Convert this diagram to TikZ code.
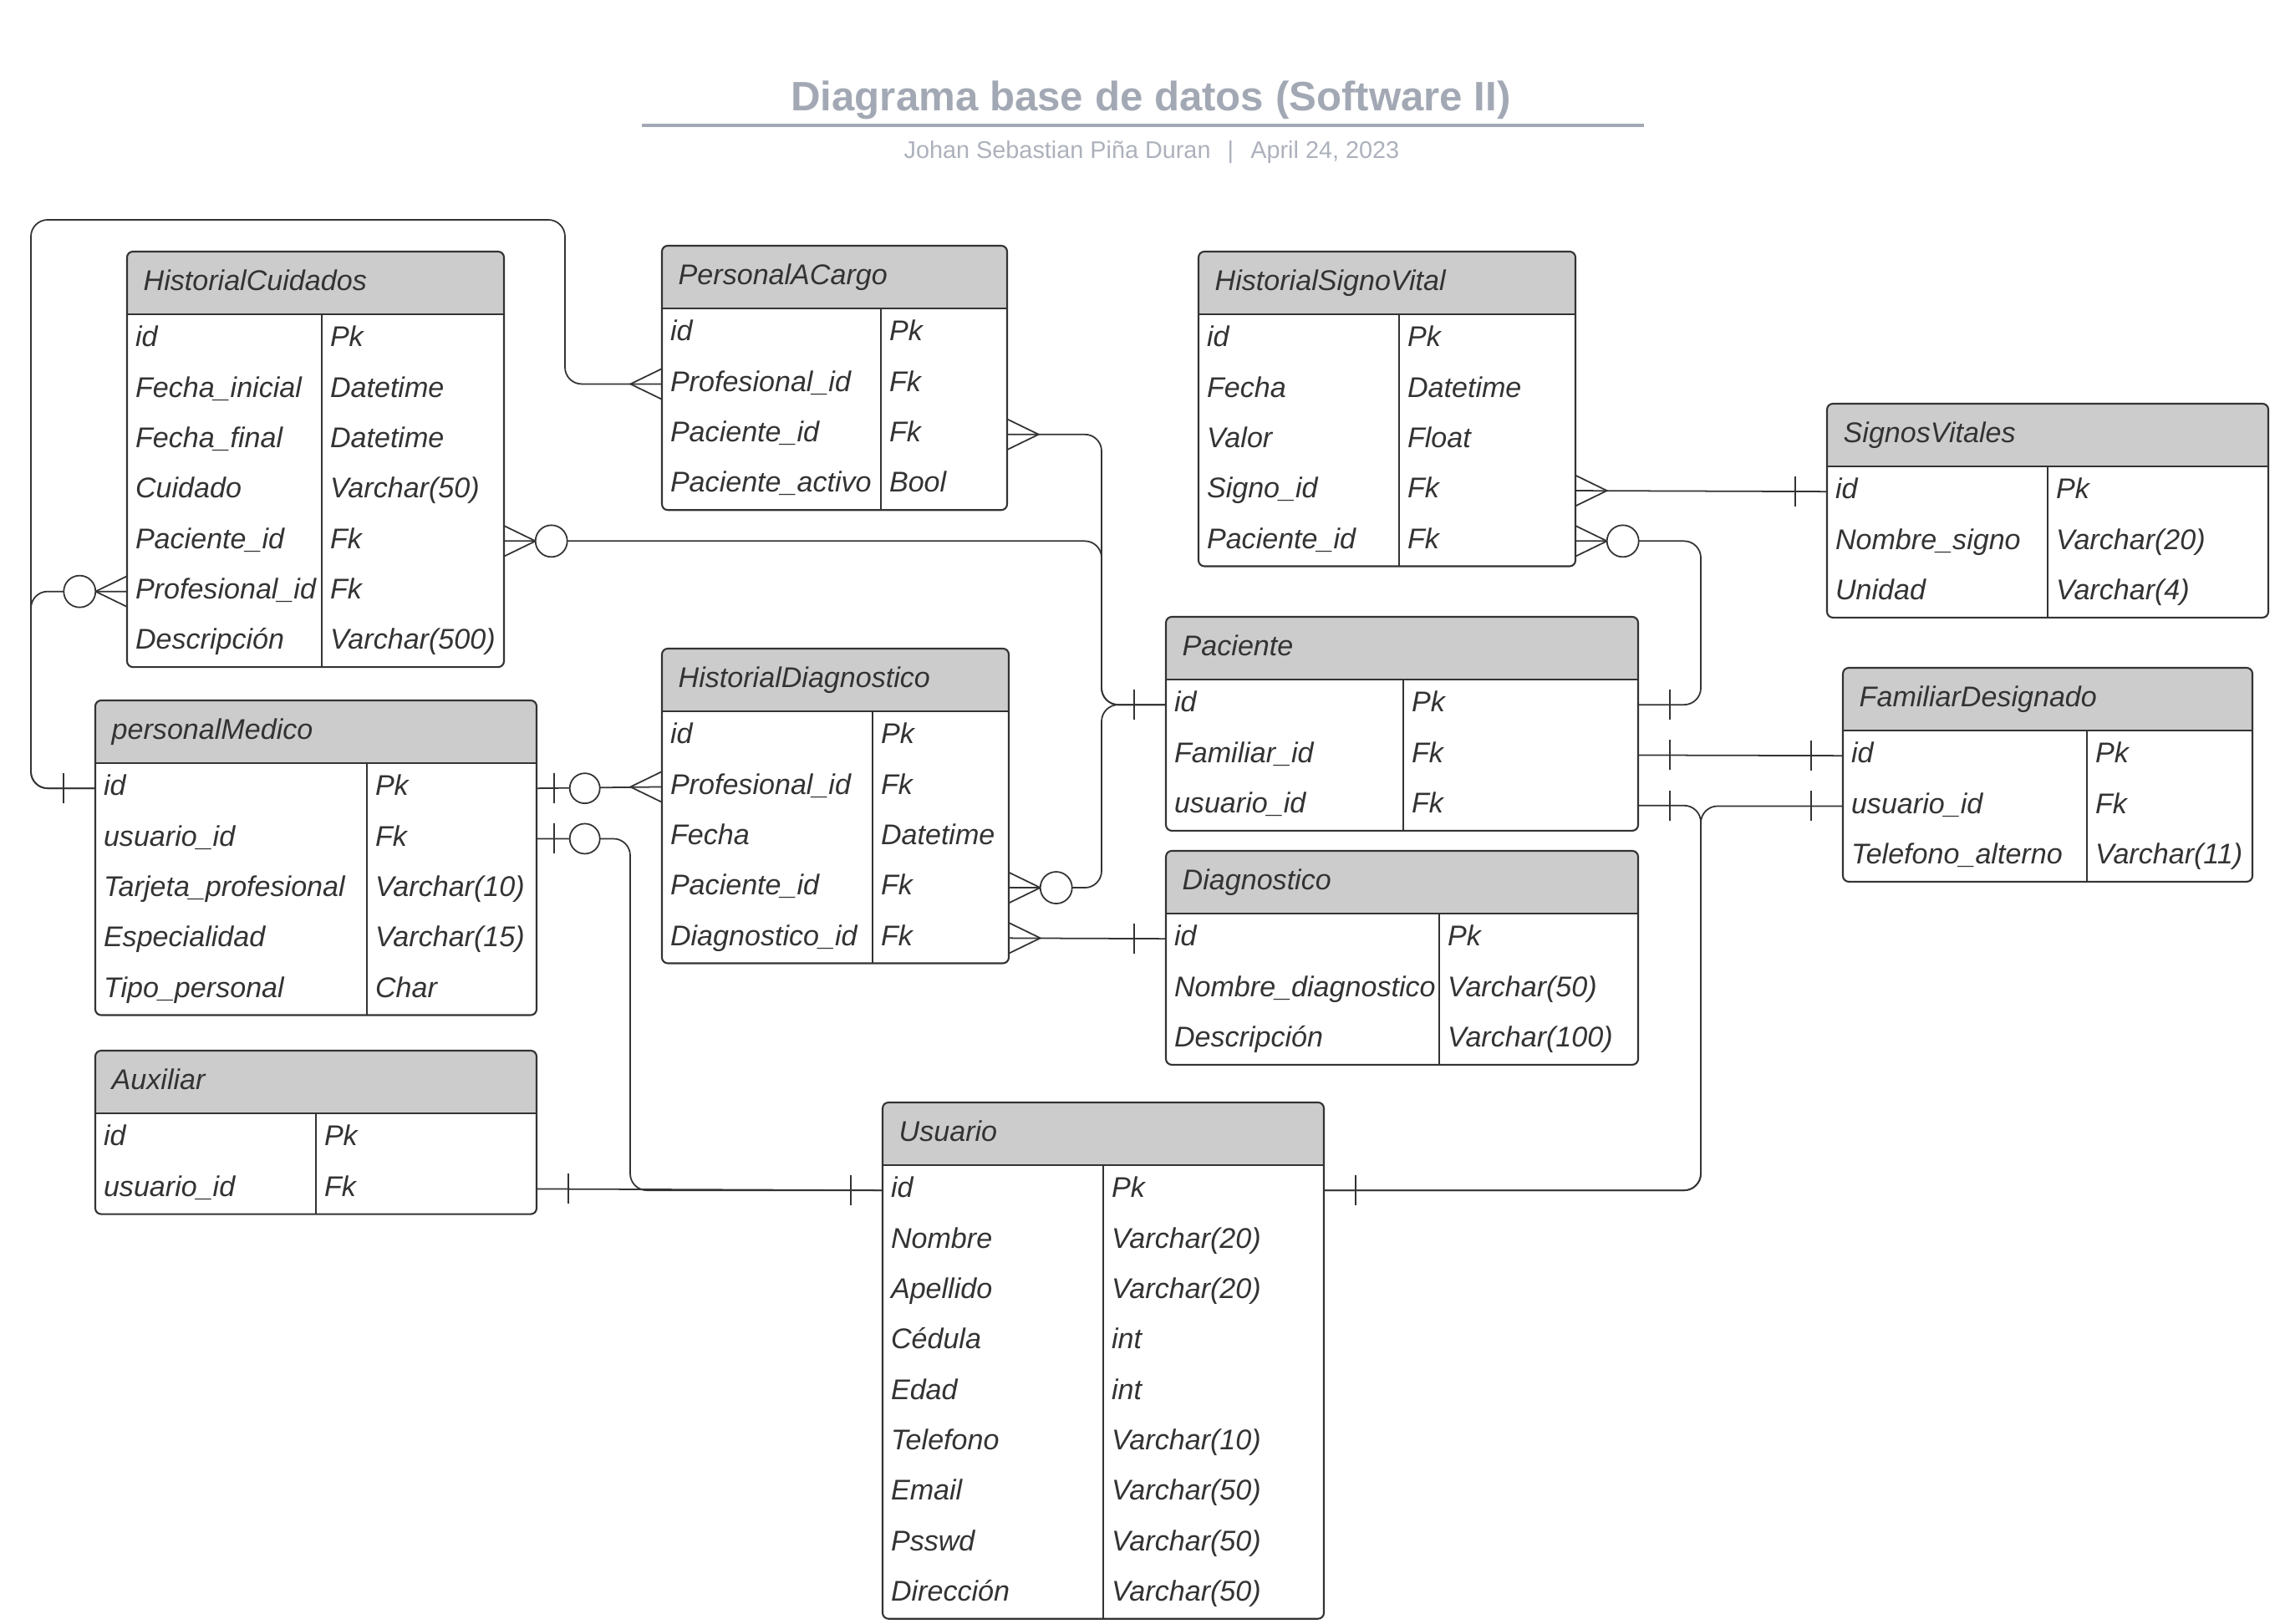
\documentclass[tikz,border=0pt]{standalone}
\usepackage{fontspec}
\setmainfont{Liberation Sans}
\usetikzlibrary{positioning}

\definecolor{titlegray}{RGB}{163,169,180}
\definecolor{subgray}{RGB}{172,177,187}
\definecolor{headgray}{RGB}{204,204,204}
\definecolor{inkgray}{RGB}{51,51,51}

\tikzset{
    many/.pic={\draw[tipline] (0,0.18) -- (0.37,0) -- (0,-0.18);},
    one/.pic={\draw[tipline] (0.37,0.18) -- (0.37,-0.18);},
    zeromany/.pic={\draw[tipline] (0,0.18) -- (0.37,0) -- (0,-0.18);
        \draw[tipline, fill=white] (0.56,0) circle (0.19);},
    zeroone/.pic={\draw[tipline] (0.2,0.18) -- (0.2,-0.18);
        \draw[tipline, fill=white] (0.57,0) circle (0.18);}
}

% name, left, top, width, second column, title, rows
\newcommand{\ertable}[7]{%
    \fill[headgray, rounded corners=2pt] (#2,#3) rectangle ({#2+#4},{#3-0.75});
    \fill[headgray] (#2,{#3-0.4}) rectangle ({#2+#4},{#3-0.75});
    \node[tabtext, anchor=west] (#1) at ({#2+0.19},{#3-0.375}) {#6};
    \foreach \fld/\typ [count=\i] in {#7} {
        \node[tabrow, minimum width=#4cm] (#1-\i) at ({#2+#4/2},{#3-0.75-(\i-0.5)*0.603}) {};
        \node[tabtext, anchor=west] at ([xshift=0.1cm]#1-\i.west) {\fld};
        \node[tabtext, anchor=west] at ([xshift={#5cm+0.1cm}]#1-\i.west) {\typ};
        \xdef\nrows{\i}
    }
    \draw[tabline] (#2,{#3-0.75}) -- ({#2+#4},{#3-0.75});
    \draw[tabline] ({#2+#5},{#3-0.75}) -- ({#2+#5},{#3-0.75-\nrows*0.603});
    \draw[tabline, rounded corners=2pt] (#2,#3) rectangle ({#2+#4},{#3-0.75-\nrows*0.603});
}

\begin{document}
\begin{tikzpicture}[
    tabtext/.style={inner sep=0, text=inkgray, text height=7pt, text depth=2pt, font=\fontsize{9.7}{11}\selectfont\itshape},
    tabrow/.style={inner sep=0, minimum height=0.603cm},
    tabline/.style={draw=inkgray, line width=0.6pt},
    conn/.style={draw=inkgray, line width=0.5pt, rounded corners=0.2cm},
    tipline/.style={draw=inkgray, line width=0.5pt}
]
    \useasboundingbox (0,0) rectangle (27.28,-19.43);

    \node[text=titlegray, font=\fontsize{14}{17}\selectfont\bfseries] (title) at (13.77,-1.20) {Diagrama base de datos (Software II)};
    \draw[titlegray, line width=1pt] (7.68,-1.50) -- (19.67,-1.50);
    \node[text=subgray, font=\fontsize{8.2}{10}\selectfont] (subtitle) at (13.78,-1.82) {Johan Sebastian Piña Duran\hspace{0.7em}|\hspace{0.7em}April 24, 2023};

    \ertable{hc}{1.52}{-3.01}{4.51}{2.33}{HistorialCuidados}{id/Pk, Fecha\_inicial/Datetime, Fecha\_final/Datetime, Cuidado/Varchar(50), Paciente\_id/Fk, Profesional\_id/Fk, Descripción/Varchar(500)}
    \ertable{pac}{7.92}{-2.94}{4.13}{2.62}{PersonalACargo}{id/Pk, Profesional\_id/Fk, Paciente\_id/Fk, Paciente\_activo/Bool}
    \ertable{hsv}{14.34}{-3.01}{4.51}{2.40}{HistorialSignoVital}{id/Pk, Fecha/Datetime, Valor/Float, Signo\_id/Fk, Paciente\_id/Fk}
    \ertable{sv}{21.86}{-4.83}{5.28}{2.64}{SignosVitales}{id/Pk, Nombre\_signo/Varchar(20), Unidad/Varchar(4)}
    \ertable{pa}{13.95}{-7.38}{5.65}{2.84}{Paciente}{id/Pk, Familiar\_id/Fk, usuario\_id/Fk}
    \ertable{fd}{22.05}{-7.99}{4.90}{2.92}{FamiliarDesignado}{id/Pk, usuario\_id/Fk, Telefono\_alterno/Varchar(11)}
    \ertable{hd}{7.92}{-7.76}{4.15}{2.52}{HistorialDiagnostico}{id/Pk, Profesional\_id/Fk, Fecha/Datetime, Paciente\_id/Fk, Diagnostico\_id/Fk}
    \ertable{pm}{1.14}{-8.38}{5.28}{3.25}{personalMedico}{id/Pk, usuario\_id/Fk, Tarjeta\_profesional/Varchar(10), Especialidad/Varchar(15), Tipo\_personal/Char}
    \ertable{dg}{13.95}{-10.18}{5.65}{3.27}{Diagnostico}{id/Pk, Nombre\_diagnostico/Varchar(50), Descripción/Varchar(100)}
    \ertable{ax}{1.14}{-12.57}{5.28}{2.64}{Auxiliar}{id/Pk, usuario\_id/Fk}
    \ertable{us}{10.56}{-13.19}{5.28}{2.64}{Usuario}{id/Pk, Nombre/Varchar(20), Apellido/Varchar(20), Cédula/int, Edad/int, Telefono/Varchar(10), Email/Varchar(50), Psswd/Varchar(50), Dirección/Varchar(50)}

    % bends of the shared lines
    \coordinate (leftbus) at (0.37,-2.63);
    \coordinate (pacbus) at (6.76,-2.63);
    \coordinate (pabus) at (13.18,0);
    \coordinate (usbus) at (20.35,0);
    \coordinate (pmbus) at (7.54,0);

    \draw[conn] (pm-1.west) -| (leftbus) -| (pacbus |- pac-2.west) -- (pac-2.west);
    \draw[conn] (hc-6.west) -| (leftbus |- pm-1.west) -- (pm-1.west);
    \draw[conn] (hc-5.east) -| (pabus |- pa-1.west) -- (pa-1.west);
    \draw[conn] (pac-3.east) -| (pabus |- pa-1.west) -- (pa-1.west);
    \draw[conn] (hd-4.east) -| (pabus |- pa-1.west) -- (pa-1.west);
    \draw[conn] (hd-5.east) -- (dg-1.west);
    \draw[conn] (hsv-4.east) -- (sv-1.west);
    \draw[conn] (hsv-5.east) -| (usbus |- pa-1.east) -- (pa-1.east);
    \draw[conn] (pa-2.east) -- (fd-1.west);
    \draw[conn] (pa-3.east) -| (usbus |- us-1.east) -- (us-1.east);
    \draw[conn] (fd-2.west) -| (usbus |- us-1.east) -- (us-1.east);
    \draw[conn] (pm-1.east) -- (hd-2.west);
    \draw[conn] (pm-2.east) -| (pmbus |- us-1.west) -- (us-1.west);
    \draw[conn] (ax-2.east) -- (us-1.west);

    \path (pm-1.west) pic[rotate=180] {one};
    \path (pac-2.west) pic[rotate=180] {many};
    \path (hc-6.west) pic[rotate=180] {zeromany};
    \path (hc-5.east) pic {zeromany};
    \path (pac-3.east) pic {many};
    \path (hd-4.east) pic {zeromany};
    \path (pa-1.west) pic[rotate=180] {one};
    \path (hd-5.east) pic {many};
    \path (dg-1.west) pic[rotate=180] {one};
    \path (hsv-4.east) pic {many};
    \path (sv-1.west) pic[rotate=180] {one};
    \path (hsv-5.east) pic {zeromany};
    \path (pa-1.east) pic {one};
    \path (pa-2.east) pic {one};
    \path (fd-1.west) pic[rotate=180] {one};
    \path (pa-3.east) pic {one};
    \path (fd-2.west) pic[rotate=180] {one};
    \path (us-1.east) pic {one};
    \path (pm-1.east) pic {zeroone};
    \path (hd-2.west) pic[rotate=180] {many};
    \path (pm-2.east) pic {zeroone};
    \path (us-1.west) pic[rotate=180] {one};
    \path (ax-2.east) pic {one};
\end{tikzpicture}
\end{document}
